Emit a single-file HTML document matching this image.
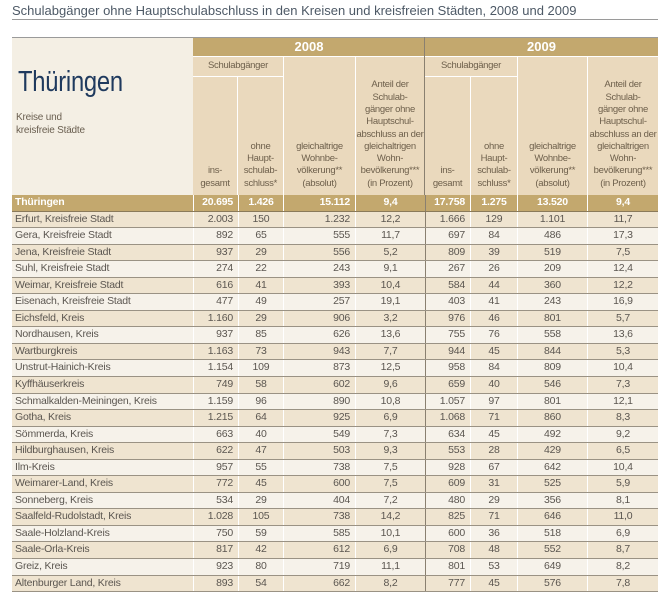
<!DOCTYPE html>
<html><head><meta charset="utf-8"><style>
body{margin:0;width:668px;height:596px;background:#fff;position:relative;font-family:"Liberation Sans",sans-serif;color:#5b5650;overflow:hidden}
.t{position:absolute;left:12px;top:3px;font-size:13px;color:#4d5966;white-space:nowrap}
.ul{position:absolute;left:12px;top:19px;width:646px;height:1px;background:#9a9a9a}
.a{position:absolute;box-sizing:border-box}
.h{font-size:9.5px;color:#6e604c;text-align:center;line-height:12.3px;display:flex;align-items:flex-end;justify-content:center;padding-bottom:5px;letter-spacing:-0.3px;white-space:nowrap}
.rows{position:absolute;left:12px;top:195px;width:646px}
.r{display:grid;grid-template-columns:181px 45px 45px 72px 70px 45px 47px 70px 71px;height:16.55px;box-sizing:border-box;border-bottom:1px solid #9a9284;font-size:10.5px;line-height:15.5px;letter-spacing:-0.2px}
.r div{padding:0 5px;white-space:nowrap;border-left:1px solid #fff}
.r div:first-child{border-left:none;padding-left:3px}
.r div:nth-child(6){border-left:1px solid #8a8070}
.r div:nth-child(2),.r div:nth-child(6){text-align:right}
.r div:nth-child(3),.r div:nth-child(5),.r div:nth-child(7),.r div:nth-child(8),.r div:nth-child(9){text-align:center}
.r div:nth-child(4){text-align:right}
.e{background:#efe4d0}.o{background:#f6f2ea}
.g{background:#c3a86e;color:#fff;font-weight:bold;border-bottom:1px solid #8a7a5a}
</style></head><body>
<div class="t">Schulabgänger ohne Hauptschulabschluss in den Kreisen und kreisfreien Städten, 2008 und 2009</div>
<div class="ul"></div>
<div class="a" style="left:12px;top:37px;width:181px;height:158px;background:#f4efe4;border-top:1px solid #9a9a9a"></div>
<div class="a" style="left:18px;top:66px;font-size:29px;color:#1f3a5e;transform:scaleX(0.82);transform-origin:left top;letter-spacing:-0.3px">Thüringen</div>
<div class="a" style="left:16px;top:112px;font-size:10px;line-height:12.5px;color:#6a5f50;letter-spacing:-0.2px">Kreise und<br>kreisfreie Städte</div>
<div class="a" style="left:193px;top:37px;width:465px;height:20px;background:#c3a86e;border-top:1px solid #9a9a9a;border-bottom:1px solid #fff"></div>
<div class="a" style="left:193px;top:39px;width:232px;text-align:center;color:#fff;font-weight:bold;font-size:13px">2008</div>
<div class="a" style="left:425px;top:39px;width:233px;text-align:center;color:#fff;font-weight:bold;font-size:13px">2009</div>
<div class="a" style="left:424px;top:37px;width:1px;height:158px;background:#8a8070"></div>
<div class="a h" style="left:193px;top:57px;width:90px;height:19px;background:#ead9bd;align-items:center;padding:0">Schulabgänger</div>
<div class="a h" style="left:193px;top:77px;width:44px;height:118px;background:#ead9bd">ins-<br>gesamt</div>
<div class="a h" style="left:238px;top:77px;width:45px;height:118px;background:#ead9bd">ohne<br>Haupt-<br>schulab-<br>schluss*</div>
<div class="a h" style="left:284px;top:57px;width:71px;height:138px;background:#ead9bd">gleichaltrige<br>Wohnbe-<br>völkerung**<br>(absolut)</div>
<div class="a h" style="left:356px;top:57px;width:68px;height:138px;background:#ead9bd">Anteil der<br>Schulab-<br>gänger ohne<br>Hauptschul-<br>abschluss an der<br>gleichaltrigen<br>Wohn-<br>bevölkerung***<br>(in Prozent)</div>
<div class="a h" style="left:425px;top:57px;width:92px;height:19px;background:#ead9bd;align-items:center;padding:0">Schulabgänger</div>
<div class="a h" style="left:425px;top:77px;width:45px;height:118px;background:#ead9bd">ins-<br>gesamt</div>
<div class="a h" style="left:471px;top:77px;width:46px;height:118px;background:#ead9bd">ohne<br>Haupt-<br>schulab-<br>schluss*</div>
<div class="a h" style="left:518px;top:57px;width:69px;height:138px;background:#ead9bd">gleichaltrige<br>Wohnbe-<br>völkerung**<br>(absolut)</div>
<div class="a h" style="left:588px;top:57px;width:70px;height:138px;background:#ead9bd">Anteil der<br>Schulab-<br>gänger ohne<br>Hauptschul-<br>abschluss an der<br>gleichaltrigen<br>Wohn-<br>bevölkerung***<br>(in Prozent)</div>
<div class="rows">
<div class="r g"><div>Thüringen</div><div>20.695</div><div>1.426</div><div>15.112</div><div>9,4</div><div>17.758</div><div>1.275</div><div>13.520</div><div>9,4</div></div>
<div class="r e"><div>Erfurt, Kreisfreie Stadt</div><div>2.003</div><div>150</div><div>1.232</div><div>12,2</div><div>1.666</div><div>129</div><div>1.101</div><div>11,7</div></div>
<div class="r o"><div>Gera, Kreisfreie Stadt</div><div>892</div><div>65</div><div>555</div><div>11,7</div><div>697</div><div>84</div><div>486</div><div>17,3</div></div>
<div class="r e"><div>Jena, Kreisfreie Stadt</div><div>937</div><div>29</div><div>556</div><div>5,2</div><div>809</div><div>39</div><div>519</div><div>7,5</div></div>
<div class="r o"><div>Suhl, Kreisfreie Stadt</div><div>274</div><div>22</div><div>243</div><div>9,1</div><div>267</div><div>26</div><div>209</div><div>12,4</div></div>
<div class="r e"><div>Weimar, Kreisfreie Stadt</div><div>616</div><div>41</div><div>393</div><div>10,4</div><div>584</div><div>44</div><div>360</div><div>12,2</div></div>
<div class="r o"><div>Eisenach, Kreisfreie Stadt</div><div>477</div><div>49</div><div>257</div><div>19,1</div><div>403</div><div>41</div><div>243</div><div>16,9</div></div>
<div class="r e"><div>Eichsfeld, Kreis</div><div>1.160</div><div>29</div><div>906</div><div>3,2</div><div>976</div><div>46</div><div>801</div><div>5,7</div></div>
<div class="r o"><div>Nordhausen, Kreis</div><div>937</div><div>85</div><div>626</div><div>13,6</div><div>755</div><div>76</div><div>558</div><div>13,6</div></div>
<div class="r e"><div>Wartburgkreis</div><div>1.163</div><div>73</div><div>943</div><div>7,7</div><div>944</div><div>45</div><div>844</div><div>5,3</div></div>
<div class="r o"><div>Unstrut-Hainich-Kreis</div><div>1.154</div><div>109</div><div>873</div><div>12,5</div><div>958</div><div>84</div><div>809</div><div>10,4</div></div>
<div class="r e"><div>Kyffhäuserkreis</div><div>749</div><div>58</div><div>602</div><div>9,6</div><div>659</div><div>40</div><div>546</div><div>7,3</div></div>
<div class="r o"><div>Schmalkalden-Meiningen, Kreis</div><div>1.159</div><div>96</div><div>890</div><div>10,8</div><div>1.057</div><div>97</div><div>801</div><div>12,1</div></div>
<div class="r e"><div>Gotha, Kreis</div><div>1.215</div><div>64</div><div>925</div><div>6,9</div><div>1.068</div><div>71</div><div>860</div><div>8,3</div></div>
<div class="r o"><div>Sömmerda, Kreis</div><div>663</div><div>40</div><div>549</div><div>7,3</div><div>634</div><div>45</div><div>492</div><div>9,2</div></div>
<div class="r e"><div>Hildburghausen, Kreis</div><div>622</div><div>47</div><div>503</div><div>9,3</div><div>553</div><div>28</div><div>429</div><div>6,5</div></div>
<div class="r o"><div>Ilm-Kreis</div><div>957</div><div>55</div><div>738</div><div>7,5</div><div>928</div><div>67</div><div>642</div><div>10,4</div></div>
<div class="r e"><div>Weimarer-Land, Kreis</div><div>772</div><div>45</div><div>600</div><div>7,5</div><div>609</div><div>31</div><div>525</div><div>5,9</div></div>
<div class="r o"><div>Sonneberg, Kreis</div><div>534</div><div>29</div><div>404</div><div>7,2</div><div>480</div><div>29</div><div>356</div><div>8,1</div></div>
<div class="r e"><div>Saalfeld-Rudolstadt, Kreis</div><div>1.028</div><div>105</div><div>738</div><div>14,2</div><div>825</div><div>71</div><div>646</div><div>11,0</div></div>
<div class="r o"><div>Saale-Holzland-Kreis</div><div>750</div><div>59</div><div>585</div><div>10,1</div><div>600</div><div>36</div><div>518</div><div>6,9</div></div>
<div class="r e"><div>Saale-Orla-Kreis</div><div>817</div><div>42</div><div>612</div><div>6,9</div><div>708</div><div>48</div><div>552</div><div>8,7</div></div>
<div class="r o"><div>Greiz, Kreis</div><div>923</div><div>80</div><div>719</div><div>11,1</div><div>801</div><div>53</div><div>649</div><div>8,2</div></div>
<div class="r e"><div>Altenburger Land, Kreis</div><div>893</div><div>54</div><div>662</div><div>8,2</div><div>777</div><div>45</div><div>576</div><div>7,8</div></div>
</div>
</body></html>
